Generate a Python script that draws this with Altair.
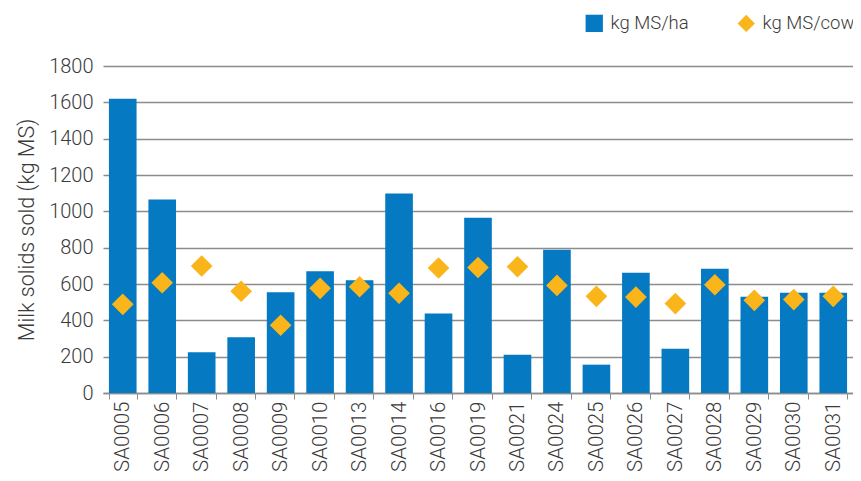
import altair as alt
import pandas as pd

sites = ["SA0005", "SA0006", "SA0007", "SA0008", "SA0009", "SA0010", "SA0013",
         "SA0014", "SA0016", "SA0019", "SA0021", "SA0024", "SA0025", "SA0026",
         "SA0027", "SA0028", "SA0029", "SA0030", "SA0031"]
kg_ms_ha = [1620, 1065, 225, 307, 554, 670, 620, 1098, 437, 965, 211, 789,
            156, 662, 244, 684, 530, 552, 552]
kg_ms_cow = [488, 607, 699, 560, 373, 576, 585, 549, 688, 691, 695, 592,
             532, 528, 492, 596, 510, 514, 532]
series_names = ["kg MS/ha", "kg MS/cow"]
series_colors = ["#0579c1", "#fab51b"]
series_shapes = ["square", "diamond"]

df = pd.DataFrame(
    [{"site": s, "series": series_names[0], "value": v} for s, v in zip(sites, kg_ms_ha)]
    + [{"site": s, "series": series_names[1], "value": v} for s, v in zip(sites, kg_ms_cow)]
)

FONT = "Roboto"
TXT = "#3a3a3a"

x = alt.X("site:N", sort=sites, title=None,
          scale=alt.Scale(paddingInner=0.3, paddingOuter=0.15),
          axis=alt.Axis(labelAngle=-90, tickBand="extent", tickSize=6,
                        labelPadding=2, labelFontSize=20.5, grid=False))
y = alt.Y("value:Q", title="Milk solids sold (kg MS)",
          scale=alt.Scale(domain=[0, 1800]),
          axis=alt.Axis(values=list(range(0, 1801, 200)), format="d", domain=False,
                        ticks=False, labelPadding=10, titlePadding=10,
                        labelFontSize=20, titleFontSize=21.5))
legend = alt.Legend(title=None, orient="none", legendX=482, legendY=-52,
                    direction="horizontal", symbolSize=300,
                    labelFontSize=18.5, columnPadding=48, labelOffset=7,
                    padding=0, symbolStrokeWidth=0)
color = alt.Color("series:N", scale=alt.Scale(domain=series_names, range=series_colors),
                  legend=legend)
shape = alt.Shape("series:N", scale=alt.Scale(domain=series_names, range=series_shapes),
                  legend=legend)

bars = alt.Chart(df).transform_filter(
    alt.datum.series == series_names[0]
).mark_bar().encode(x=x, y=y, color=color)

points = alt.Chart(df).transform_filter(
    alt.datum.series == series_names[1]
).mark_point(filled=True, size=470, opacity=1, strokeWidth=0).encode(
    x=x, y=y, color=color, shape=shape)

chart = alt.layer(bars, points).properties(
    width=750, height=327,
    autosize=alt.AutoSizeParams(type="none"),
    padding={"left": 95, "top": 58, "right": 0, "bottom": 80},
).configure_view(stroke=None).configure_axis(
    labelFont=FONT, titleFont=FONT, labelFontWeight=300, titleFontWeight=300,
    labelColor=TXT, titleColor=TXT,
    gridColor="#8c8c8c", gridWidth=1.3,
    domainColor="#8c8c8c", domainWidth=1.5, tickColor="#8c8c8c", tickWidth=1,
).configure_legend(labelFont=FONT, labelFontWeight=300, labelColor=TXT)

chart.save("out.html", embed_options={"renderer": "svg", "actions": False})
